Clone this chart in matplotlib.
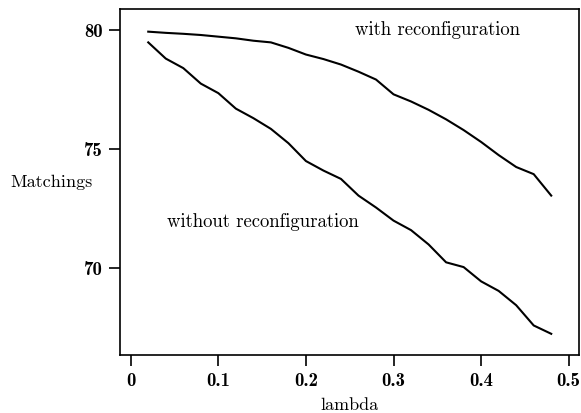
import numpy as np
import matplotlib
matplotlib.use("Agg")
import matplotlib.pyplot as plt

# lambda values and matchings
lam = [0.02, 0.04, 0.06, 0.08, 0.10, 0.12, 0.14, 0.16, 0.18, 0.20, 0.22, 0.24,
       0.26, 0.28, 0.30, 0.32, 0.34, 0.36, 0.38, 0.40, 0.42, 0.44, 0.46, 0.48]
with_reconf = [79.93, 79.88, 79.84, 79.79, 79.72, 79.65, 79.55, 79.48, 79.25, 78.97,
               78.78, 78.55, 78.25, 77.92, 77.30, 77.00, 76.65, 76.25, 75.80, 75.30,
               74.75, 74.25, 73.95, 73.05]
without_reconf = [79.48, 78.80, 78.40, 77.75, 77.35, 76.70, 76.30, 75.85, 75.25, 74.50,
                  74.10, 73.75, 73.05, 72.55, 72.00, 71.60, 71.00, 70.25, 70.05, 69.45,
                  69.05, 68.45, 67.60, 67.25]
xticks = [0, 0.1, 0.2, 0.3, 0.4, 0.5]
yticks = [70, 75, 80]

fig = plt.figure(figsize=(5.81, 4.13), dpi=100)
ax = fig.add_axes([0.2057, 0.1404, 0.7913, 0.8366])

ax.plot(lam, with_reconf, color="black", lw=1.5)
ax.plot(lam, without_reconf, color="black", lw=1.5)

ax.set_xlim(-0.0128, 0.512)
ax.set_ylim(66.36, 80.86)

ax.set_xticks(xticks)
ax.set_xticklabels(["0", "0.1", "0.2", "0.3", "0.4", "0.5"])
ax.set_yticks(yticks)
ax.set_yticklabels([str(v) for v in yticks])
for lbl in ax.get_xticklabels() + ax.get_yticklabels():
    lbl.set_fontfamily("cmb10")
    lbl.set_fontsize(13.5)
ax.tick_params(direction="out", length=8, width=1.2, pad=4)

for sp in ax.spines.values():
    sp.set_linewidth(1.2)

ax.text(0.256, 80.0, "with reconfiguration", fontfamily="cmr10",
        fontsize=13.5, va="center", ha="left")
ax.text(0.041, 71.95, "without reconfiguration", fontfamily="cmr10",
        fontsize=13.5, va="center", ha="left")

ax.set_xlabel("lambda", fontfamily="cmr10", fontsize=13)
ax.xaxis.set_label_coords(0.5, -0.145)
ax.xaxis.label.set_va("center")
ax.set_ylabel("Matchings", fontfamily="cmr10", fontsize=13, rotation=0)
ax.yaxis.set_label_coords(-0.149, 0.50)
ax.yaxis.label.set_va("center")
ax.yaxis.label.set_ha("center")

fig.savefig("out.png", dpi=100)
